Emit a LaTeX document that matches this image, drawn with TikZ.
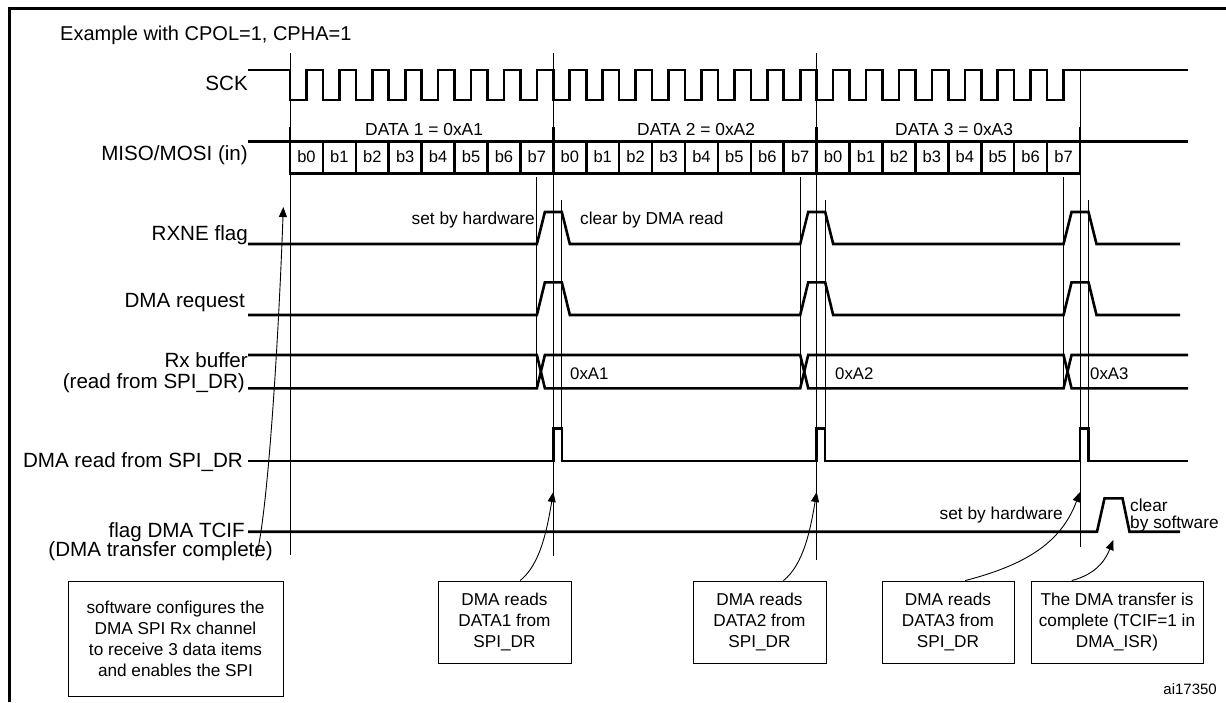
\documentclass[tikz,border=0pt]{standalone}
\usepackage{fontspec}
\setmainfont{Liberation Sans}
\usetikzlibrary{arrows.meta,calc}
\begin{document}
\begin{tikzpicture}[x=1pt,y=-1pt,
  sig/.style={line width=2.6pt, line join=miter},
  guide/.style={line width=0.9pt},
  frame/.style={line width=2.6pt},
  mainlbl/.style={font=\fontsize{20.6}{24}\selectfont, inner sep=0pt},
  title/.style={font=\fontsize{20}{24}\selectfont, inner sep=0pt},
  datalbl/.style={font=\fontsize{17.4}{20}\selectfont, inner sep=0pt},
  bitlbl/.style={font=\fontsize{16.5}{19}\selectfont, inner sep=0pt},
  ann/.style={font=\fontsize{17.3}{20}\selectfont, inner sep=0pt},
  val/.style={font=\fontsize{16.8}{20}\selectfont, inner sep=0pt},
  note/.style={draw, line width=0.9pt, font=\fontsize{17.2}{21}\selectfont, align=center, inner sep=0pt},
  arr/.style={line width=0.9pt, -{Triangle[length=10pt,width=8pt]}}
]
\useasboundingbox (0,0) rectangle (1226,702);
\def\bw{32.9167}
% frame
\draw[frame] (9.5,702) -- (9.5,8.5) -- (1226,8.5);
\node[title, anchor=base west] (ex) at (60,40) {Example with CPOL=1, CPHA=1};

% guide lines
\draw[guide] (290,53) -- (290,555);
\draw[guide] (553.3,53) -- (553.3,556);
\draw[guide] (816.7,53) -- (816.7,560);
\draw[guide] (1080,70) -- (1080,547);
\foreach \k in {0,1,2} {
  \draw[guide] ({290+(8*\k+7.5)*\bw},177) -- ({290+(8*\k+7.5)*\bw},388.3);
  \draw[guide] ({290+8*(\k+1)*\bw+8.5},200) -- ({290+8*(\k+1)*\bw+8.5},428.3);
}

% labels
\node[mainlbl, anchor=base east] (sck) at (248,90) {SCK};
\node[mainlbl, anchor=base east] (miso) at (248,160) {MISO/MOSI (in)};
\node[mainlbl, anchor=base east] (rxne) at (248,240) {RXNE flag};
\node[mainlbl, anchor=base east] (dreq) at (245,307) {DMA request};
\node[mainlbl, anchor=base east] (rxb) at (248,367) {Rx buffer};
\node[mainlbl, anchor=base east] (rxb2) at (245,388) {(read from SPI\_DR)};
\node[mainlbl, anchor=base east] (dmard) at (243,467) {DMA read from SPI\_DR};
\node[mainlbl, anchor=base east] (tcif) at (245,537) {flag DMA TCIF};
\node[mainlbl, anchor=base east] (tcif2) at (273,556) {(DMA transfer complete)};

% SCK
\draw[sig] (248,70) foreach \i in {0,...,23} { -- ({290+\i*\bw},70) -- ({290+\i*\bw},100) -- ({290+(\i+0.5)*\bw},100) -- ({290+(\i+0.5)*\bw},70) } -- (1188,70);

% MISO/MOSI data row
\draw[sig] (248,141.3) -- (1188,141.3);
\draw[sig] (290,173.3) -- (1080,173.3);
\foreach \i in {1,...,23} {
  \draw[sig] ({290+\i*\bw},141.3) -- ({290+\i*\bw},173.3);
}
\foreach \k in {0,1,2,3} {
  \draw[sig] ({290+8*\k*\bw},127) -- ({290+8*\k*\bw},174.6);
}
\foreach \i in {0,...,23} {
  \pgfmathtruncatemacro{\bb}{mod(\i,8)}
  \node[bitlbl, anchor=base] (bit\i) at ({290+(\i+0.5)*\bw},162) {b\bb};
}
\node[datalbl, anchor=base west] (data1) at (365,135) {DATA 1 = 0xA1};
\node[datalbl, anchor=base west] (data2) at (637,135) {DATA 2 = 0xA2};
\node[datalbl, anchor=base west] (data3) at (895,135) {DATA 3 = 0xA3};

% RXNE flag
\draw[sig] (248,244) foreach \k in {0,1,2} { -- ({290+(8*\k+7.5)*\bw},244) -- ({290+(8*\k+7.5)*\bw+8},212) -- ({290+8*(\k+1)*\bw+8.5},212) -- ({290+8*(\k+1)*\bw+16.5},244) } -- (1180,244);
\node[ann, anchor=base east] (sbh1) at (535,224) {set by hardware};
\node[ann, anchor=base west] (cdr) at (580,224) {clear by DMA read};

% DMA request
\draw[sig] (248,315) foreach \k in {0,1,2} { -- ({290+(8*\k+7.5)*\bw},315) -- ({290+(8*\k+7.5)*\bw+8},282.3) -- ({290+8*(\k+1)*\bw+8.5},282.3) -- ({290+8*(\k+1)*\bw+16.5},315) } -- (1180,315);

% Rx buffer
\draw[sig] (248,355) -- ({290+7.5*\bw},355) -- ({290+7.5*\bw+8},388.3) -- ({290+15.5*\bw},388.3) -- ({290+15.5*\bw+8},355) -- ({290+23.5*\bw},355) -- ({290+23.5*\bw+8},388.3) -- (1188,388.3);
\draw[sig] (248,388.3) -- ({290+7.5*\bw},388.3) -- ({290+7.5*\bw+8},355) -- ({290+15.5*\bw},355) -- ({290+15.5*\bw+8},388.3) -- ({290+23.5*\bw},388.3) -- ({290+23.5*\bw+8},355) -- (1188,355);
\node[val, anchor=base west] (va1) at (570,379) {0xA1};
\node[val, anchor=base west] (va2) at (835,379) {0xA2};
\node[val, anchor=base west] (va3) at (1090,379) {0xA3};

% DMA read from SPI_DR
\draw[sig] (248,461) foreach \k in {1,2,3} { -- ({290+8*\k*\bw},461) -- ({290+8*\k*\bw},428.3) -- ({290+8*\k*\bw+8.5},428.3) -- ({290+8*\k*\bw+8.5},461) } -- (1188,461);

% TCIF
\draw[sig] (248,531.7) -- (1097,531.7) -- (1104.5,498.3) -- (1122.5,498.3) -- (1129.5,531.7) -- (1180,531.7);
\node[ann, anchor=base east] (sbh2) at (1063,519) {set by hardware};
\node[ann, anchor=base west] (clr) at (1130,511) {clear};
\node[ann, anchor=base west] (bys) at (1130,528) {by software};

% boxes
\node[note, minimum width=215pt, minimum height=115pt] (sw) at (175.5,638.5) {software configures the\\DMA SPI Rx channel\\to receive 3 data items\\and enables the SPI};
\node[note, minimum width=133pt, minimum height=82pt] (d1) at (504.5,622) {DMA reads\\DATA1 from\\SPI\_DR};
\node[note, minimum width=133pt, minimum height=82pt] (d2) at (759.5,622) {DMA reads\\DATA2 from\\SPI\_DR};
\node[note, minimum width=132pt, minimum height=82pt] (d3) at (948,622) {DMA reads\\DATA3 from\\SPI\_DR};
\node[note, minimum width=172pt, minimum height=82pt] (tc) at (1117,622) {The DMA transfer is\\complete (TCIF=1 in\\DMA\_ISR)};

% arrows
\coordinate (swstart) at (256,557);
\coordinate (swtip) at (283.3,207);
\coordinate (t1) at (553.3,492);
\coordinate (t2) at (816.7,492);
\coordinate (t3) at (1080,492);
\coordinate (t4) at (1113.3,540);
\draw[arr] (swstart) .. controls (268,515) and (279,330) .. (swtip);
\draw[arr] ($(d1.north west)!0.617!(d1.north east)$) .. controls +(20,-16) and +(-6.3,38) .. (t1);
\draw[arr] ($(d2.north west)!0.679!(d2.north east)$) .. controls +(20,-16) and +(-6.3,38) .. (t2);
\draw[arr] ($(d3.north west)!0.629!(d3.north east)$) .. controls +(65,-16.7) and +(-18,48) .. (t3);
\draw[arr] ($(tc.north west)!0.238!(tc.north east)$) .. controls +(26,-6.7) and +(-7,18) .. (t4);

\node[font=\fontsize{15}{18}\selectfont, inner sep=0pt, anchor=base east] (ai) at (1217,694) {ai17350};
\end{tikzpicture}
\end{document}
